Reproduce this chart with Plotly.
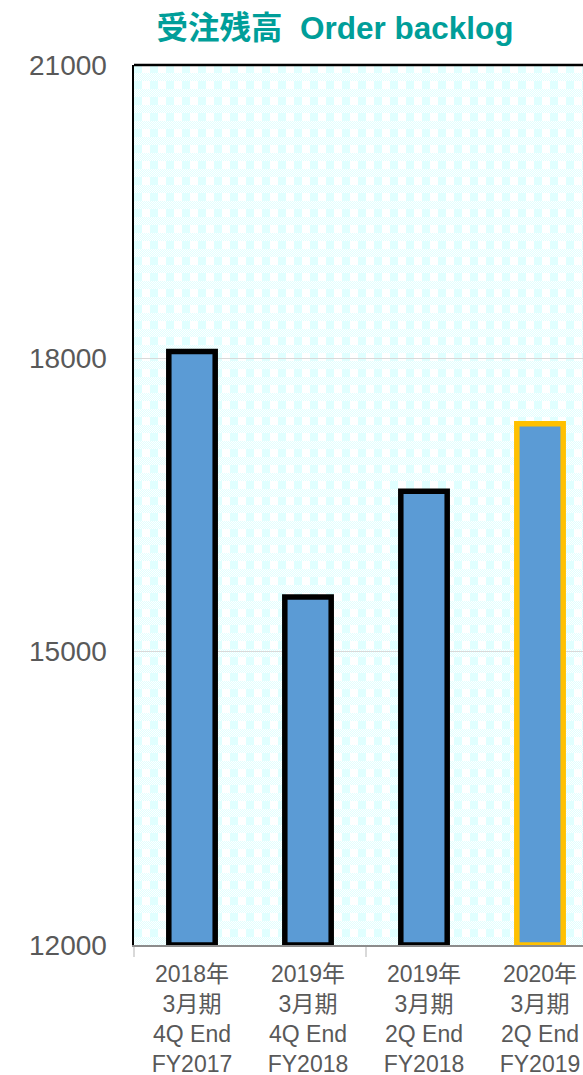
import base64, struct, zlib
import numpy as np
import plotly.graph_objects as go

# ---------------- data ----------------
period_labels = [
    "2018年<br>3月期<br>4Q End<br>FY2017",
    "2019年<br>3月期<br>4Q End<br>FY2018",
    "2019年<br>3月期<br>2Q End<br>FY2018",
    "2020年<br>3月期<br>2Q End<br>FY2019",
]
backlog_values = [18070, 15560, 16640, 17330]
y_tick_values = [12000, 15000, 18000, 21000]
chart_title = "受注残高\u00a0\u00a0Order backlog"

# ---------------- style ----------------
W, H = 583, 1075
M_L, M_R, M_T, M_B = 134, 0, 65, 130
PW, PH = W - M_L - M_R, H - M_T - M_B
cat_px = 116.0
bar_fill = "#5B9BD5"
outline_colors = ["#000000", "#000000", "#000000", "#FFC000"]
text_gray = "#595959"
teal = "#009E99"
font_family = "Liberation Sans, Arial, Noto Sans CJK JP, sans-serif"


def pattern_png(w, h):
    yy, xx = np.mgrid[0:h, 0:w]
    cyan = np.array([224, 255, 255], dtype=np.uint8)
    white = np.array([255, 255, 255], dtype=np.uint8)
    solid_band = (yy % 16) < 8
    solid_cyan = (xx % 16) < 8
    checker = ((xx + yy) % 2) == 0
    is_cyan = np.where(solid_band, solid_cyan, checker)
    img = np.where(is_cyan[..., None], cyan, white).astype(np.uint8)
    raw = b"".join(b"\x00" + img[r].tobytes() for r in range(h))

    def chunk(tag, data):
        c = struct.pack(">I", len(data)) + tag + data
        return c + struct.pack(">I", zlib.crc32(tag + data) & 0xFFFFFFFF)

    png = b"\x89PNG\r\n\x1a\n"
    png += chunk(b"IHDR", struct.pack(">IIBBBBB", w, h, 8, 2, 0, 0, 0))
    png += chunk(b"IDAT", zlib.compress(raw, 9))
    png += chunk(b"IEND", b"")
    return "data:image/png;base64," + base64.b64encode(png).decode()


x_pos = list(range(len(period_labels)))

fig = go.Figure()
fig.add_trace(
    go.Bar(
        x=x_pos,
        y=[v - y_tick_values[0] for v in backlog_values],
        base=y_tick_values[0],
        width=0.40,
        marker=dict(color=bar_fill, line=dict(color=outline_colors, width=5.5)),
        hoverinfo="skip",
    )
)

fig.update_layout(
    width=W,
    height=H,
    margin=dict(l=M_L, r=M_R, t=M_T, b=M_B, pad=0, autoexpand=False),
    paper_bgcolor="white",
    plot_bgcolor="white",
    showlegend=False,
    font=dict(family=font_family, color=text_gray),
    title=dict(
        text="<b>" + chart_title + "</b>",
        x=335 / W,
        xref="container",
        xanchor="center",
        y=1 - 17 / H,
        yref="container",
        yanchor="top",
        font=dict(size=31.5, color=teal, family=font_family),
        automargin=False,
    ),
    xaxis=dict(
        range=[-0.5, -0.5 + PW / cat_px],
        tickvals=x_pos,
        ticktext=period_labels,
        ticks="",
        showgrid=False,
        zeroline=False,
        showline=True,
        linecolor="#8C8C8C",
        linewidth=1.5,
        tickfont=dict(size=23, color=text_gray),
        ticklabelstandoff=8,
        automargin=False,
        minor=dict(
            tickvals=[-0.5, 1.5, 3.5],
            ticks="outside",
            ticklen=10,
            tickwidth=2,
            tickcolor="#D9D9D9",
            showgrid=False,
        ),
    ),
    yaxis=dict(
        range=[y_tick_values[0], y_tick_values[-1]],
        tickvals=y_tick_values,
        tickformat="d",
        ticks="",
        showgrid=True,
        gridcolor="#D9D9D9",
        gridwidth=1.5,
        zeroline=False,
        showline=True,
        linecolor="#000000",
        linewidth=2.5,
        tickfont=dict(size=28, color=text_gray),
        ticklabelstandoff=19,
        automargin=False,
    ),
    images=[
        dict(
            source=pattern_png(PW, PH),
            xref="paper",
            yref="paper",
            x=0,
            y=1,
            sizex=1,
            sizey=1,
            xanchor="left",
            yanchor="top",
            sizing="stretch",
            layer="below",
        )
    ],
    shapes=[
        dict(
            type="line",
            xref="paper",
            yref="paper",
            x0=0,
            x1=1,
            y0=1,
            y1=1,
            line=dict(color="#000000", width=2.5),
        )
    ],
)

fig.write_html(
    "out.html",
    config={"displayModeBar": False, "staticPlot": True},
    post_script="document.body.style.margin='0';document.documentElement.style.overflow='hidden';",
)
